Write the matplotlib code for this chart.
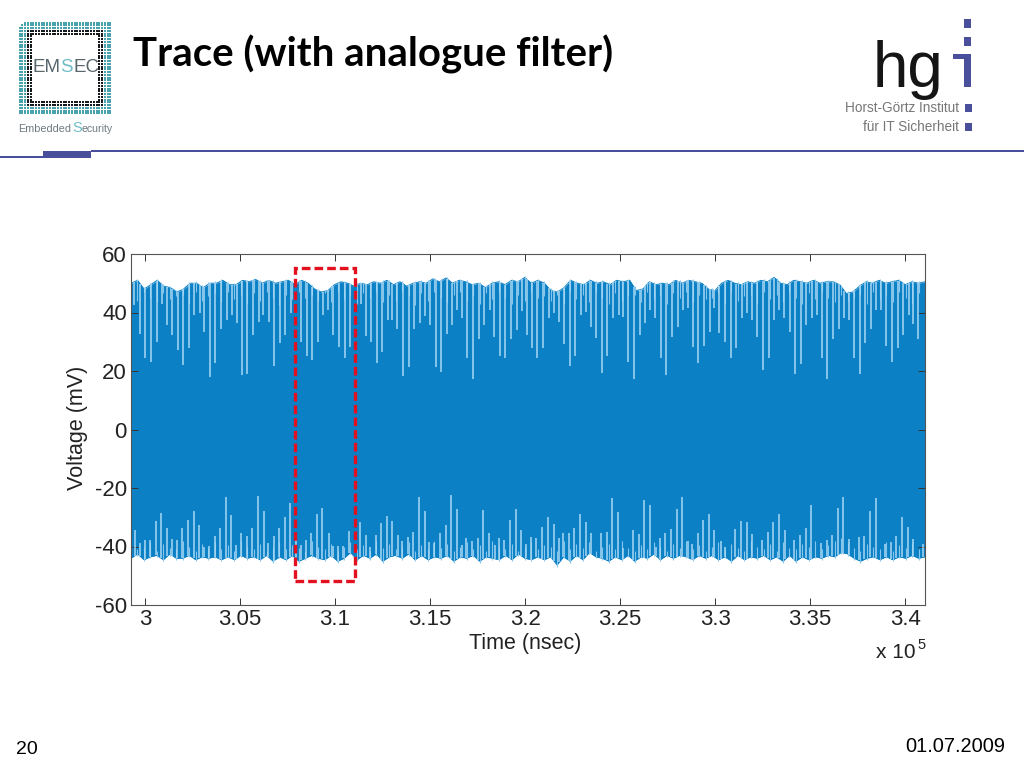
import numpy as np
import matplotlib
matplotlib.use("Agg")
import matplotlib.pyplot as plt
from matplotlib.patches import Rectangle, Polygon

# spikes going down from the upper edge of the trace (time in 1e5 nsec, mV)
top_t = [2.9944, 2.9974, 3.0002, 3.0032, 3.0061, 3.0088, 3.0114, 3.0144, 3.0172, 3.0202, 3.0232, 3.0260,
         3.0288, 3.0312, 3.0340, 3.0370, 3.0400, 3.0430, 3.0456, 3.0482, 3.0510, 3.0538, 3.0570, 3.0600,
         3.0623, 3.0651, 3.0680, 3.0710, 3.0738, 3.0766, 3.0821, 3.0851, 3.0879, 3.0908, 3.0938, 3.0965,
         3.0991, 3.1021, 3.1051, 3.1079, 3.1135, 3.1161, 3.1189, 3.1219, 3.1249, 3.1277, 3.1302, 3.1328,
         3.1360, 3.1389, 3.1417, 3.1447, 3.1474, 3.1498, 3.1530, 3.1558, 3.1588, 3.1617, 3.1642, 3.1668,
         3.1696, 3.1728, 3.1756, 3.1786, 3.1816, 3.1838, 3.1868, 3.1896, 3.1926, 3.1956, 3.1986, 3.2009,
         3.2037, 3.2065, 3.2097, 3.2125, 3.2153, 3.2177, 3.2205, 3.2237, 3.2265, 3.2295, 3.2321, 3.2346,
         3.2375, 3.2403, 3.2433, 3.2465, 3.2493, 3.2516, 3.2544, 3.2575, 3.2603, 3.2633, 3.2658, 3.2686,
         3.2716, 3.2744, 3.2773, 3.2803, 3.2833, 3.2860, 3.2884, 3.2912, 3.2944, 3.2972, 3.2996, 3.3023,
         3.3054, 3.3084, 3.3112, 3.3142, 3.3170, 3.3195, 3.3223, 3.3253, 3.3282, 3.3312, 3.3337, 3.3363,
         3.3393, 3.3423, 3.3453, 3.3481, 3.3512, 3.3535, 3.3561, 3.3591, 3.3623, 3.3651, 3.3679, 3.3703,
         3.3731, 3.3761, 3.3791, 3.3821, 3.3847, 3.3872, 3.3902, 3.3931, 3.3961, 3.3991, 3.4019, 3.4042,
         3.4070]
top_v = [42.5, 32.6, 24.3, 23.2, 30, 43, 35.7, 32.3, 27.1, 22.2, 27.7, 39.1,
         39.7, 33.4, 17.8, 22.6, 34.2, 37.4, 39.1, 36.3, 18.6, 18.9, 32.3, 36.8,
         39.1, 36.8, 21.7, 29.6, 32.3, 39.7, 30, 25.1, 23.7, 30, 39.1, 40.8,
         32.3, 28.3, 24.3, 28.1, 43, 32, 30, 22.6, 26.6, 37.6, 37.4, 34.2,
         18.2, 21.4, 34.2, 36.5, 38.8, 35.7, 21.4, 19.7, 32.5, 35.7, 40.8, 38,
         24.3, 17.1, 30.8, 35.7, 40.8, 31.7, 25.1, 24.6, 31.1, 34, 40.6, 32.3,
         27.7, 24.3, 27.7, 38, 39.7, 36.8, 29.2, 21.7, 25.1, 39.1, 40.3, 35.1,
         31.4, 19.4, 25.1, 38.2, 39.1, 38.5, 23.2, 17.4, 32.3, 36.3, 40.8, 38,
         24.3, 18.6, 31.7, 35.1, 40.8, 41.4, 28.1, 22.8, 28.5, 33.4, 41.4, 33.1,
         30, 24.3, 27.7, 38, 39.7, 37.4, 31.7, 20.5, 24.3, 37.6, 40.8, 38,
         33.4, 18.9, 22.4, 35.7, 38, 39.1, 24.3, 17.4, 31.1, 34.2, 38, 37.4,
         24.3, 18.9, 29.6, 34.2, 40.8, 41, 28.5, 23.2, 27.7, 32.3, 39.1, 36,
         31.1]

# spikes going up from the lower edge of the trace
bot_t = [2.9945, 2.9975, 2.9998, 3.0028, 3.0058, 3.0086, 3.0116, 3.0144, 3.0167, 3.0196, 3.0226, 3.0256,
         3.0286, 3.0310, 3.0338, 3.0367, 3.0396, 3.0426, 3.0454, 3.0477, 3.0507, 3.0535, 3.0565, 3.0596,
         3.0624, 3.0647, 3.0677, 3.0705, 3.0735, 3.0765, 3.0795, 3.0823, 3.0847, 3.0875, 3.0905, 3.0933,
         3.0968, 3.0988, 3.1016, 3.1044, 3.1075, 3.1133, 3.1161, 3.1184, 3.1214, 3.1244, 3.1274, 3.1302,
         3.1333, 3.1354, 3.1384, 3.1412, 3.1442, 3.1472, 3.1495, 3.1523, 3.1554, 3.1582, 3.1612, 3.1640,
         3.1668, 3.1691, 3.1723, 3.1752, 3.1781, 3.1812, 3.1840, 3.1863, 3.1891, 3.1923, 3.1951, 3.1980,
         3.2003, 3.2033, 3.2060, 3.2091, 3.2121, 3.2151, 3.2181, 3.2202, 3.2232, 3.2260, 3.2291, 3.2319,
         3.2349, 3.2402, 3.2430, 3.2460, 3.2489, 3.2516, 3.2570, 3.2598, 3.2628, 3.2659, 3.2689, 3.2710,
         3.2738, 3.2768, 3.2798, 3.2828, 3.2859, 3.2880, 3.2909, 3.2938, 3.2968, 3.2996, 3.3030, 3.3052,
         3.3107, 3.3139, 3.3167, 3.3196, 3.3249, 3.3277, 3.3307, 3.3337, 3.3367, 3.3417, 3.3447, 3.3477,
         3.3505, 3.3556, 3.3588, 3.3617, 3.3645, 3.3675, 3.3705, 3.3756, 3.3786, 3.3816, 3.3845, 3.3895,
         3.3926, 3.3954, 3.3986, 3.4014, 3.4042, 3.4093]
bot_v = [-34.4, -38.7, -37.8, -37.8, -31.2, -28.7, -33.8, -37.6, -37.8, -33.8, -31, -27.8,
         -32.5, -40.3, -39.8, -36.4, -33.8, -23.2, -29.2, -39.5, -35.3, -36.4, -33.8, -22.7,
         -27.9, -38.7, -36.4, -33.8, -29.8, -25, -35.5, -39.5, -37.8, -35.3, -28.9, -26.9,
         -35.3, -39.8, -39.8, -39.8, -34.6, -31.5, -36.1, -40, -36.1, -31.9, -29.6, -31.2,
         -36.1, -38, -36.9, -34.9, -23.2, -27.8, -38.4, -38.7, -35.5, -32.7, -22.4, -27.3,
         -39.5, -37.2, -38, -37.2, -27.5, -35.3, -39.5, -37, -37.8, -31, -27.3, -34.4,
         -39.2, -36.7, -37.2, -33.2, -29.8, -32.3, -37.2, -35.3, -35.3, -33.8, -28.9, -31.7,
         -35.3, -35.5, -34.9, -23.5, -28.3, -40.6, -34.4, -35.7, -24.1, -25.9, -40, -37.2,
         -35.3, -34.1, -27.3, -23.2, -38, -39.2, -35.5, -31, -28.9, -34.4, -38, -40,
         -34.1, -31.2, -31.6, -35.7, -37.8, -34.9, -31.7, -28.9, -34.4, -37.8, -36.1, -33.8,
         -25.8, -38.9, -37.8, -36.1, -26.7, -23.2, -37.6, -36.9, -36.4, -27.8, -23.5, -39.2,
         -38.4, -36.4, -29.8, -33.2, -37.3, -39.2]

# outer edges of the trace, read left to right across the axes
upper_edge = [50, 51, 48, 49.5, 51, 49, 48.5, 47, 48, 50, 50, 48.5, 50, 50, 51, 49.5, 49.5, 51, 50.5, 51.3,
              50, 51, 50, 50.5, 51, 49.5, 51, 50, 48, 47, 47.5, 49.5, 50.5, 50, 49, 50, 49.5, 50.5, 50, 51,
              49.5, 50.5, 49, 50, 50.5, 50, 51.5, 50.5, 51.8, 50, 51, 50.5, 49.5, 50, 48.5, 50, 50.5, 49.5,
              51, 50.5, 52, 50, 51, 50, 47.5, 47, 48.5, 51, 50, 49.5, 51, 50, 50.5, 49.5, 51, 50.5, 51, 47.5,
              48, 50.5, 49.5, 50, 49.5, 51, 50, 51, 50.5, 50, 48, 47.5, 50, 51, 50, 49.5, 50.5, 50, 51, 50.5,
              52, 50, 49.5, 51, 50.5, 50, 51, 50, 50.5, 50.5, 49.5, 46.5, 47, 49, 50.5, 50, 51, 50, 50.5, 51,
              49.5, 50.5, 50, 50.5]
lower_edge = [-44, -42.5, -44.5, -43.5, -43, -44.5, -42.5, -44, -44, -43, -44.5, -43.5, -44, -43.5, -44.5, -43.5,
              -44.5, -43, -44, -43.5, -44.5, -43, -45, -43.5, -44.5, -43, -45, -44, -43, -44, -44.5, -43, -45,
              -44, -42, -44.5, -43, -44, -42.5, -45, -43.5, -43, -44, -42.5, -44.5, -43, -44.5, -43.5, -44, -43,
              -45, -43.5, -44, -43, -45, -43.5, -44, -44.5, -43, -44.5, -42.5, -44, -44.5, -43.5, -44.5, -43.5,
              -46.3, -43.5, -45, -43, -44.5, -42, -43.5, -44, -45, -43.5, -44.5, -43, -45, -43.5, -44, -42.5, -44.5,
              -43, -44, -43, -43.5, -44.5, -43, -44, -43, -44.5, -43.5, -45, -43, -44.5, -43.5, -44, -43, -44.5,
              -43.5, -45, -43, -45, -43.5, -44.5, -43.5, -44, -43, -43.5, -42, -42.5, -44, -45, -44, -43.5, -44.5,
              -43.5, -44.5, -43.5, -44, -43, -44, -43.5]

# short notches in the fringe of the trace, same left to right order
upper_notch = [46, 44, 47, 45, 43.5, 46.5, 44.5, 45.5, 46, 43, 47, 44, 45.5, 46.5, 43.5, 47, 44.5, 46, 43, 46.5,
               44, 47, 45, 42.5, 46, 44.5, 47, 45, 46, 44, 46.5, 43.5, 47, 44.5, 46, 43, 46.5, 45, 47, 43.5,
               46, 44, 47, 45.5, 42.5, 46.5, 44, 47, 45, 43.5, 46, 47, 44, 45.5, 43, 46.5, 44.5, 47, 45, 43,
               46, 44, 47, 45, 45.5, 44, 46, 43, 47, 44.5, 46, 43.5, 47, 45, 43, 46.5, 44, 45.5, 46, 43.5,
               47, 44.5, 46, 43, 46.5, 45, 47, 43.5, 46, 44.5, 45, 46.5, 43, 47, 44, 45.5, 46, 43, 47, 44.5,
               46, 43.5, 47, 45, 43, 46.5, 44.5, 47, 45, 43.5, 46, 44, 45, 46, 43, 47, 44.5, 46, 43.5, 47,
               45, 43, 46.5, 44.5]
lower_notch = [-39.5, -41, -40, -38.5, -41.5, -39, -40.5, -41, -38, -40, -41.5, -39, -40.5, -38.5, -41, -39.5,
               -41.5, -38, -40, -41, -39, -41.5, -40, -38.5, -41, -39.5, -40.5, -41.5, -38, -40, -41, -39, -41.5,
               -40, -38.5, -41, -39.5, -41.5, -38, -40.5, -39, -41, -40, -38.5, -41.5, -39.5, -41, -38, -40.5, -39,
               -41.5, -40, -38.5, -41, -39.5, -41.5, -38, -40, -41, -39, -41.5, -40.5, -38.5, -41, -39.5, -40,
               -41.5, -38, -41, -39, -40.5, -38.5, -41.5, -40, -39, -41, -38, -40.5, -41.5, -39.5, -41, -38.5, -40,
               -41.5, -39, -40.5, -38, -41, -39.5, -41.5, -40, -38.5, -41, -39, -40.5, -41.5, -38, -40, -41, -39,
               -41.5, -38.5, -40.5, -41, -39, -40, -38, -41, -39.5, -38, -37, -38.5, -40.5, -41.5, -39, -40, -41,
               -38.5, -41.5, -39.5, -40.5, -38.5, -41, -39]

x_ticks = [3, 3.05, 3.1, 3.15, 3.2, 3.25, 3.3, 3.35, 3.4]
x_labels = ['3', '3.05', '3.1', '3.15', '3.2', '3.25', '3.3', '3.35', '3.4']
y_ticks = [-60, -40, -20, 0, 20, 40, 60]

W, H = 1024, 768
BLUE = '#0b80c5'
NOTCH = '#86c6ec'
SPIKE = '#a8d8f4'
NAVY = '#4a4f9c'
T0, T1 = 2.9926, 3.4105
plt.rcParams['font.family'] = ['Liberation Sans', 'DejaVu Sans']
plt.rcParams['axes.unicode_minus'] = False

fig = plt.figure(figsize=(10.24, 7.68), dpi=100)

# page furniture is placed in pixel coordinates
page = fig.add_axes([0, 0, 1, 1])
page.set_xlim(0, W)
page.set_ylim(H, 0)
page.axis('off')

page.add_patch(Rectangle((91, 150), 933, 2, color=NAVY, lw=0))
page.add_patch(Rectangle((0, 155.5), 44, 2, color=NAVY, lw=0))
page.add_patch(Rectangle((43, 151), 48, 6.5, color=NAVY, lw=0))
page.text(133, 66, 'Trace (with analogue filter)', family='Lato', weight='bold', fontsize=28.9,
          color='black', va='baseline')
page.text(27, 750, '20', fontsize=14, ha='center', va='center')
page.text(1005, 746, '01.07.2009', fontsize=14.4, ha='right', va='center')

# EMSEC logo, a grid of dots
gx, gy = np.meshgrid(np.arange(19.5, 112, 2.75), np.arange(22.5, 115, 2.75))
gx, gy = gx.ravel(), gy.ravel()
d = np.maximum(np.abs(gx - 65), np.abs(gy - 68))
corner = (gx - 18) + (gy - 21) < 8
teal = (d > 38) & ~corner
black = (d > 34) & (d <= 38)
page.scatter(gx[teal], gy[teal], s=3.5, marker='s', color='#4aa3ac', lw=0)
page.scatter(gx[black], gy[black], s=3.5, marker='s', color='#16181c', lw=0)
page.text(32, 67, 'EM', fontsize=13.5, color='#59666c', va='center')
page.text(60.5, 67, 'S', fontsize=13.5, color='#6fbcc6', va='center')
page.text(73.5, 67, 'EC', fontsize=13.5, color='#59666c', va='center')
page.text(18, 129, 'Embedded', fontsize=7.8, color='#6d7a80', va='center')
page.text(72, 128, 'S', fontsize=10.5, color='#6fbcc6', va='center')
page.text(82, 129, 'ecurity', fontsize=7.6, color='#6d7a80', va='center')

# hgi logo
page.text(873, 87, 'hg', fontsize=46, color='#151515', va='baseline')
page.add_patch(Rectangle((964, 19), 7, 9, color=NAVY, lw=0))
page.add_patch(Rectangle((964, 37), 7, 9, color=NAVY, lw=0))
page.add_patch(Polygon([(953, 54), (971, 54), (971, 87), (964, 87), (964, 59), (953, 59)], color=NAVY, lw=0))
page.text(959, 108, 'Horst-Görtz Institut', fontsize=9.8, color='#777777', ha='right', va='center')
page.text(959, 127, 'für IT Sicherheit', fontsize=9.8, color='#777777', ha='right', va='center')
page.add_patch(Rectangle((965, 104), 6.5, 8, color=NAVY, lw=0))
page.add_patch(Rectangle((965, 123), 6.5, 8, color=NAVY, lw=0))

# the oscilloscope plot
ax = fig.add_axes([131 / W, 1 - 605 / H, (925 - 131) / W, (605 - 254) / H])
ax.set_xlim(T0, T1)
ax.set_ylim(-60, 60)

up_t = np.linspace(T0, T1, len(upper_edge))
lo_t = np.linspace(T0, T1, len(lower_edge))
ax.fill_between(up_t, 0, upper_edge, color=BLUE, lw=0)
ax.fill_between(lo_t, lower_edge, 0, color=BLUE, lw=0)
ax.plot(up_t, upper_edge, color=BLUE, lw=0.7)
ax.plot(lo_t, lower_edge, color=BLUE, lw=0.7)

# fringe notches run out to just past the edge
un_t = np.linspace(T0, T1, len(upper_notch))
ln_t = np.linspace(T0, T1, len(lower_notch))
ax.vlines(un_t, upper_notch, np.interp(un_t, up_t, upper_edge) + 0.6, color=NOTCH, lw=0.8)
ax.vlines(ln_t, np.interp(ln_t, lo_t, lower_edge) - 0.6, lower_notch, color=NOTCH, lw=0.8)

ax.vlines(top_t, top_v, np.interp(top_t, up_t, upper_edge), color=SPIKE, lw=1.1)
ax.vlines(bot_t, np.interp(bot_t, lo_t, lower_edge), bot_v, color=SPIKE, lw=1.1)

ax.add_patch(Rectangle((3.0789, -51.8), 3.1105 - 3.0789, 55.2 + 51.8, fill=False, ec='#e3101f',
                       lw=2.4, ls=(0, (2.6, 1.2)), zorder=5))

ax.set_xticks(x_ticks)
ax.set_xticklabels(x_labels)
ax.set_yticks(y_ticks)
ax.tick_params(direction='in', top=True, right=True, length=5, width=0.7, color='#333333',
               labelsize=16, labelcolor='#222222', pad=3)
for s in ax.spines.values():
    s.set_linewidth(0.8)
    s.set_color('#555555')

page.text(525, 643, 'Time (nsec)', fontsize=15.5, color='#222222', ha='center', va='center')
page.text(78, 428, 'Voltage (mV)', fontsize=15.5, color='#222222', rotation=90, ha='center', va='center')
page.text(876, 653, 'x 10', fontsize=15, color='#222222', va='center')
page.text(917, 645, '5', fontsize=10.5, color='#222222', va='center')

fig.savefig('out.png', dpi=100)
